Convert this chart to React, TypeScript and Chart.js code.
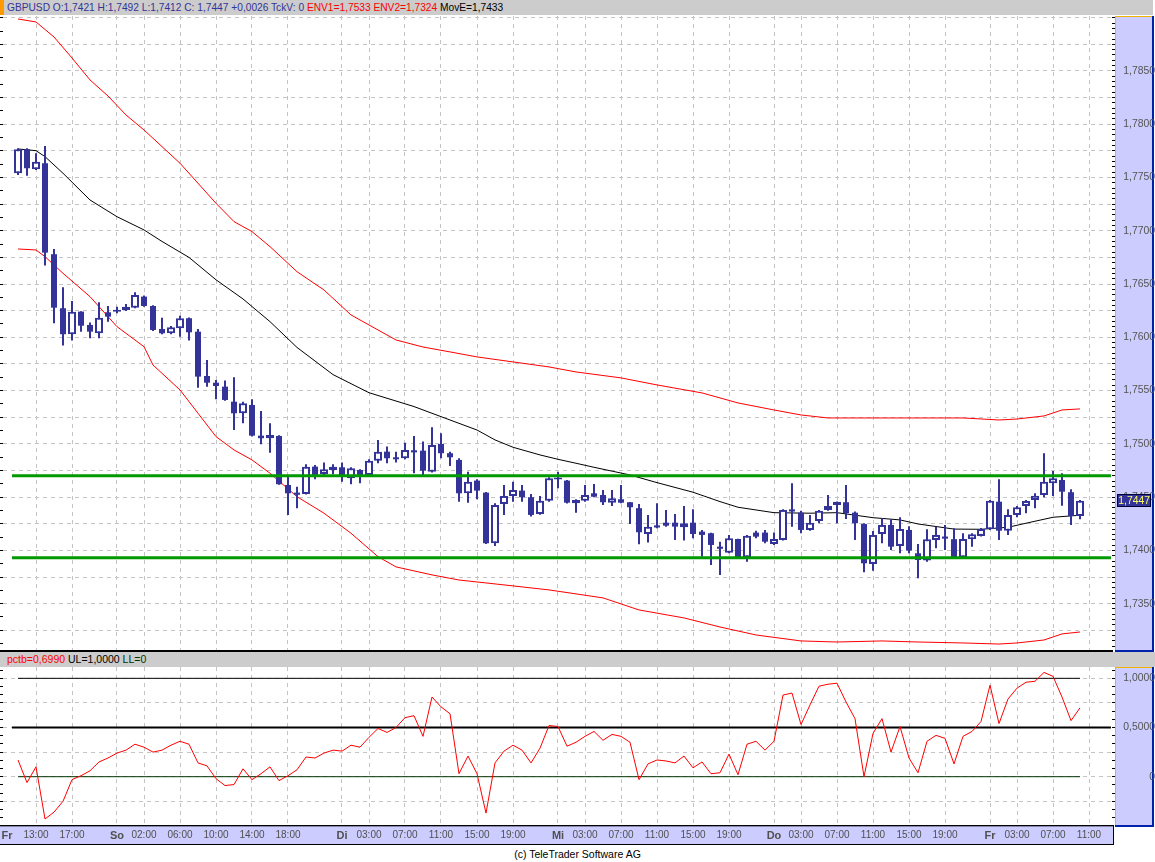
import React, { useEffect, useRef } from 'react';
import { Chart, registerables } from 'chart.js';

Chart.register(...registerables);

const FONT = '"Liberation Sans", Arial, sans-serif';
const BLUE = '#333399';

// ---------------- data (hourly GBPUSD candles, index 0 = Fr 11:00) ----------------
const candleOpen = [
  1.77540, 1.77765, 1.77577, 1.77634, 1.76780, 1.76273, 1.76029, 1.76241, 1.76116, 1.76038,
  1.76235, 1.76240, 1.76257, 1.76278, 1.76382, 1.76294, 1.76078, 1.76038, 1.76085, 1.76179,
  1.76053, 1.75637, 1.75574, 1.75537, 1.75396, 1.75287, 1.75365, 1.75077, 1.75053, 1.75074,
  1.74614, 1.74542, 1.74530, 1.74786, 1.74717, 1.74755, 1.74780, 1.74677, 1.74755, 1.74708,
  1.74842, 1.74927, 1.74874, 1.74865, 1.74940, 1.74936, 1.74739, 1.74999, 1.74912, 1.74849,
  1.74536, 1.74655, 1.74542, 1.74067, 1.74436, 1.74511, 1.74561, 1.74499, 1.74342, 1.74467,
  1.74665, 1.74655, 1.74442, 1.74467, 1.74536, 1.74520, 1.74448, 1.74480, 1.74452, 1.74396,
  1.74154, 1.74235, 1.74260, 1.74260, 1.74217, 1.74260, 1.74176, 1.74161, 1.74035, 1.73979,
  1.74107, 1.73936, 1.74167, 1.74167, 1.74060, 1.74098, 1.74385, 1.74354, 1.74192, 1.74276,
  1.74380, 1.74427, 1.74452, 1.74354, 1.74248, 1.73873, 1.74154, 1.74239, 1.74042, 1.74192,
  1.73973, 1.73904, 1.74098, 1.74130, 1.74105, 1.73936, 1.74105, 1.74136, 1.74198, 1.74457,
  1.74185, 1.74333, 1.74417, 1.74473, 1.74520, 1.74630, 1.74661, 1.74546, 1.74323,
];
const candleHigh = [
  1.77775, 1.77775, 1.77728, 1.77796, 1.76829, 1.76470, 1.76341, 1.76245, 1.76138, 1.76329,
  1.76294, 1.76288, 1.76313, 1.76423, 1.76392, 1.76300, 1.76184, 1.76107, 1.76203, 1.76185,
  1.76078, 1.75787, 1.75600, 1.75594, 1.75625, 1.75396, 1.75419, 1.75309, 1.75193, 1.75080,
  1.74692, 1.74598, 1.74809, 1.74802, 1.74824, 1.74809, 1.74824, 1.74780, 1.74762, 1.74855,
  1.75037, 1.74974, 1.74927, 1.75011, 1.75074, 1.75021, 1.75156, 1.75099, 1.74927, 1.74865,
  1.74739, 1.74668, 1.74548, 1.74442, 1.74614, 1.74645, 1.74614, 1.74530, 1.74511, 1.74686,
  1.74739, 1.74660, 1.74480, 1.74614, 1.74624, 1.74567, 1.74567, 1.74614, 1.74455, 1.74436,
  1.74333, 1.74442, 1.74380, 1.74342, 1.74417, 1.74386, 1.74192, 1.74165, 1.74082, 1.74145,
  1.74110, 1.74145, 1.74185, 1.74192, 1.74167, 1.74386, 1.74630, 1.74373, 1.74333, 1.74380,
  1.74520, 1.74460, 1.74614, 1.74364, 1.74255, 1.74182, 1.74302, 1.74292, 1.74311, 1.74227,
  1.74060, 1.74198, 1.74223, 1.74239, 1.74208, 1.74161, 1.74161, 1.74210, 1.74473, 1.74668,
  1.74386, 1.74417, 1.74473, 1.74536, 1.74912, 1.74746, 1.74724, 1.74574, 1.74473,
];
const candleLow = [
  1.77524, 1.77517, 1.77571, 1.76673, 1.76132, 1.75922, 1.75969, 1.76053, 1.75991, 1.75991,
  1.76147, 1.76226, 1.76247, 1.76273, 1.76288, 1.76060, 1.76029, 1.76029, 1.76006, 1.75969,
  1.75527, 1.75537, 1.75419, 1.75405, 1.75130, 1.75193, 1.75068, 1.74996, 1.74917, 1.74615,
  1.74333, 1.74396, 1.74525, 1.74668, 1.74708, 1.74715, 1.74645, 1.74621, 1.74630, 1.74705,
  1.74818, 1.74818, 1.74824, 1.74855, 1.74724, 1.74708, 1.74730, 1.74865, 1.74793, 1.74457,
  1.74448, 1.74480, 1.74060, 1.74042, 1.74333, 1.74457, 1.74457, 1.74317, 1.74335, 1.74457,
  1.74583, 1.74440, 1.74354, 1.74457, 1.74499, 1.74427, 1.74417, 1.74442, 1.74248, 1.74058,
  1.74073, 1.74208, 1.74223, 1.74098, 1.74092, 1.74114, 1.73941, 1.73863, 1.73770, 1.73973,
  1.73930, 1.73894, 1.74114, 1.74067, 1.74051, 1.74092, 1.74223, 1.74161, 1.74185, 1.74255,
  1.74373, 1.74255, 1.74295, 1.74098, 1.73795, 1.73810, 1.74067, 1.74004, 1.73973, 1.73973,
  1.73738, 1.73894, 1.74020, 1.74004, 1.73930, 1.73930, 1.74035, 1.74130, 1.74192, 1.74098,
  1.74145, 1.74311, 1.74349, 1.74396, 1.74499, 1.74511, 1.74420, 1.74239, 1.74292,
];
const candleClose = [
  1.77765, 1.77587, 1.77649, 1.76795, 1.76278, 1.76029, 1.76241, 1.76109, 1.76053, 1.76184,
  1.76194, 1.76258, 1.76288, 1.76398, 1.76294, 1.76069, 1.76038, 1.76094, 1.76179, 1.76047,
  1.75631, 1.75574, 1.75543, 1.75412, 1.75287, 1.75381, 1.75077, 1.75053, 1.75084, 1.74621,
  1.74536, 1.74522, 1.74786, 1.74699, 1.74762, 1.74786, 1.74699, 1.74771, 1.74708, 1.74842,
  1.74927, 1.74865, 1.74855, 1.74943, 1.74920, 1.74748, 1.74990, 1.74912, 1.74874, 1.74536,
  1.74645, 1.74561, 1.74067, 1.74427, 1.74511, 1.74567, 1.74499, 1.74333, 1.74467, 1.74677,
  1.74685, 1.74448, 1.74473, 1.74520, 1.74504, 1.74452, 1.74489, 1.74448, 1.74405, 1.74170,
  1.74223, 1.74215, 1.74232, 1.74223, 1.74255, 1.74154, 1.74145, 1.74051, 1.74015, 1.74114,
  1.73936, 1.74138, 1.74129, 1.74082, 1.74107, 1.74380, 1.74365, 1.74192, 1.74260, 1.74373,
  1.74417, 1.74457, 1.74349, 1.74255, 1.73879, 1.74145, 1.74239, 1.74035, 1.74201, 1.73998,
  1.73910, 1.74105, 1.74145, 1.74110, 1.73936, 1.74107, 1.74151, 1.74201, 1.74467, 1.74185,
  1.74333, 1.74405, 1.74464, 1.74514, 1.74645, 1.74677, 1.74551, 1.74323, 1.74467,
];

// moving average (black) read at sample bars
const maIdx = [0, 2, 3, 5, 8, 11, 14, 16, 19, 22, 25, 28, 31, 35, 39, 44, 48, 51, 53, 55, 58, 60, 62, 64, 68, 71, 75, 78, 80, 84, 88, 91, 95, 98, 100, 104, 107, 110, 112, 115, 118];
const maVal = [
  1.77768, 1.77752, 1.77696, 1.77540, 1.77289, 1.77132, 1.77008, 1.76900, 1.76750, 1.76540,
  1.76360, 1.76147, 1.75905, 1.75650, 1.75480, 1.75350, 1.75224, 1.75130, 1.75037, 1.74968,
  1.74896, 1.74855, 1.74818, 1.74780, 1.74708, 1.74636, 1.74546, 1.74458, 1.74405, 1.74354,
  1.74349, 1.74354, 1.74307, 1.74286, 1.74248, 1.74200, 1.74198, 1.74217, 1.74255, 1.74311,
  1.74330,
];
// envelope upper (red)
const envUIdx = [0, 2, 4, 6, 8, 10, 12, 14, 18, 22, 24, 26, 28, 31, 34, 37, 40, 42, 45, 48, 51, 55, 59, 62, 67, 71, 76, 80, 84, 87, 90, 96, 100, 105, 109, 111, 114, 116, 118];
const envUVal = [
  1.78988, 1.78960, 1.78819, 1.78622, 1.78416, 1.78265, 1.78087, 1.77946, 1.77634, 1.77258,
  1.77086, 1.76992, 1.76851, 1.76616, 1.76444, 1.76210, 1.76069, 1.75975, 1.75909, 1.75863,
  1.75816, 1.75769, 1.75722, 1.75675, 1.75619, 1.75553, 1.75478, 1.75384, 1.75318, 1.75271,
  1.75243, 1.75243, 1.75243, 1.75243, 1.75224, 1.75233, 1.75262, 1.75318, 1.75328,
];
// envelope lower (red)
const envLIdx = [0, 2, 3, 5, 8, 11, 14, 15, 18, 20, 22, 24, 26, 28, 31, 34, 37, 40, 42, 46, 49, 54, 59, 65, 69, 74, 78, 82, 87, 91, 96, 100, 105, 109, 111, 114, 116, 118];
const envLVal = [
  1.76829, 1.76820, 1.76757, 1.76601, 1.76382, 1.76100, 1.75912, 1.75740, 1.75506, 1.75287,
  1.75068, 1.74943, 1.74849, 1.74724, 1.74504, 1.74349, 1.74161, 1.73941, 1.73845, 1.73770,
  1.73722, 1.73676, 1.73629, 1.73554, 1.73441, 1.73366, 1.73281, 1.73206, 1.73150, 1.73140,
  1.73150, 1.73140, 1.73131, 1.73121, 1.73131, 1.73159, 1.73216, 1.73234,
];
// horizontal support / resistance levels (green)
const levelValues = [1.7470, 1.7393];

// %b indicator (lower panel)
const pctb = [
  0.17, -0.06, 0.10, -0.43, -0.36, -0.25, -0.03, 0.01, 0.06, 0.15,
  0.19, 0.24, 0.27, 0.33, 0.30, 0.25, 0.27, 0.32, 0.36, 0.33,
  0.14, 0.11, -0.02, -0.09, -0.08, 0.08, -0.03, 0.03, 0.10, -0.04,
  0.01, 0.07, 0.20, 0.19, 0.24, 0.27, 0.26, 0.32, 0.30, 0.40,
  0.49, 0.45, 0.50, 0.60, 0.62, 0.41, 0.81, 0.71, 0.64, 0.03,
  0.21, 0.03, -0.37, 0.14, 0.26, 0.32, 0.27, 0.14, 0.29, 0.52,
  0.51, 0.31, 0.35, 0.41, 0.46, 0.37, 0.43, 0.41, 0.35, -0.03,
  0.13, 0.17, 0.16, 0.14, 0.21, 0.09, 0.15, 0.03, 0.04, 0.23,
  0.02, 0.33, 0.36, 0.27, 0.36, 0.83, 0.85, 0.53, 0.73, 0.92,
  0.94, 0.95, 0.76, 0.59, 0.00, 0.44, 0.59, 0.25, 0.51, 0.19,
  0.04, 0.36, 0.42, 0.39, 0.13, 0.41, 0.46, 0.56, 0.93, 0.54,
  0.79, 0.90, 0.96, 0.97, 1.06, 1.02, 0.81, 0.57, 0.70,
];
const pctbUpper = 1.0;
const pctbMid = 0.5;
const pctbLower = 0.0;

// x-axis ticks (bar index) and their labels
const xTickIdx = [-1.22, 2, 6, 11, 14, 18, 22, 26, 30, 36, 39, 43, 47, 51, 55, 60, 63, 67, 71, 75, 79, 84, 87, 91, 95, 99, 103, 108, 111, 115, 119];
const xTickLabels = ['Fr', '13:00', '17:00', 'So', '02:00', '06:00', '10:00', '14:00', '18:00', 'Di', '03:00', '07:00', '11:00', '15:00', '19:00', 'Mi', '03:00', '07:00', '11:00', '15:00', '19:00', 'Do', '03:00', '07:00', '11:00', '15:00', '19:00', 'Fr', '03:00', '07:00', '11:00'];
const dayLabels = ['Fr', 'So', 'Di', 'Mi', 'Do'];

const headerBlue = 'GBPUSD O:1,7421 H:1,7492 L:1,7412 C: 1,7447 +0,0026 TckV: 0';
const headerRed = 'ENV1=1,7533 ENV2=1,7324';
const headerBlack = 'MovE=1,7433';

// ---------------- axis ranges ----------------
const X_MIN = -5 / 3;
const X_MAX = 1094 / 9;
const LEVEL_FROM = -0.67;
const LEVEL_TO = 121.44;
const Y_MIN = 1.73065;
const Y_MAX = 1.79016;
const P_MIN = -0.491;
const P_MAX = 1.115;

const GRID = '#c4c4c4';
const NONE = 'rgba(0,0,0,0)';

function stepTicks(min: number, max: number, step: number) {
  const out: any[] = [];
  const k0 = Math.ceil(min / step - 1e-9);
  const k1 = Math.floor(max / step + 1e-9);
  for (let k = k0; k <= k1; k++) out.push({ value: k * step });
  return out;
}

const fmt = (v: number) => v.toFixed(4).replace('.', ',');

const xScale = (showLabels: boolean) => ({
  type: 'linear',
  min: X_MIN,
  max: X_MAX,
  offset: false,
  afterBuildTicks: (s: any) => {
    s.ticks = xTickIdx.map((v) => ({ value: v }));
  },
  afterFit: (s: any) => {
    s.height = showLabels ? 20 : 0;
    s.paddingLeft = 0;
    s.paddingRight = 0;
  },
  grid: {
    offset: false,
    drawTicks: false,
    color: (c: any) => (c.index === 0 ? NONE : GRID),
    lineWidth: 1,
  },
  border: { display: false, dash: [4, 4] },
  ticks: {
    display: showLabels,
    autoSkip: false,
    maxRotation: 0,
    minRotation: 0,
    padding: 4,
    color: '#505050',
    callback: (_v: any, i: number) => xTickLabels[i],
    font: (c: any) => {
      const day = dayLabels.includes(xTickLabels[c.index]);
      return { family: FONT, size: day ? 11 : 10, weight: day ? 'bold' : 'normal' };
    },
  },
});

const leftTickScale = (min: number, max: number, step: number) => ({
  type: 'linear',
  position: 'left',
  min,
  max,
  afterBuildTicks: (s: any) => {
    s.ticks = stepTicks(min, max, step);
  },
  afterFit: (s: any) => {
    s.width = 3;
    s.paddingTop = 0;
    s.paddingBottom = 0;
  },
  grid: { drawOnChartArea: false, drawTicks: true, tickLength: 3, tickColor: '#000', tickWidth: 1 },
  border: { display: false },
  ticks: { display: false, autoSkip: false },
});

function axisBox(ctx: any, x0: number, x1: number, y0: number, y1: number) {
  ctx.fillStyle = '#ccccff';
  ctx.fillRect(x0, y0, x1 - x0, y1 - y0);
  ctx.fillStyle = '#f0b400';
  ctx.fillRect(x0, y0, x1 - x0, 1);
  ctx.fillRect(x0, y0, 1, y1 - y0);
  ctx.fillStyle = '#0022aa';
  ctx.fillRect(x1, y0, 2, y1 - y0 + 2);
  ctx.fillRect(x0, y1, x1 - x0 + 2, 2);
}

const mainBg = {
  id: 'mainBg',
  beforeDraw(chart: any) {
    const { ctx, chartArea: a, width, height } = chart;
    ctx.save();
    ctx.fillStyle = '#ffffff';
    ctx.fillRect(0, 0, width, height);
    axisBox(ctx, a.right + 3, width - 3, a.top, a.bottom);
    ctx.fillStyle = '#000';
    ctx.fillRect(0, a.bottom, a.right + 1, 2);
    ctx.restore();
  },
  afterDraw(chart: any) {
    const { ctx, chartArea: a, scales, width } = chart;
    const last = candleClose[candleClose.length - 1];
    const y = scales.y.getPixelForValue(last);
    ctx.save();
    const x0 = a.right + 5;
    const x1 = width - 4;
    ctx.fillStyle = '#333399';
    ctx.fillRect(x0, Math.round(y) - 7, x1 - x0, 13);
    ctx.strokeStyle = '#000033';
    ctx.lineWidth = 1;
    ctx.strokeRect(x0 + 0.5, Math.round(y) - 6.5, x1 - x0 - 1, 12);
    ctx.fillStyle = '#ffff66';
    ctx.font = `10.4px ${FONT}`;
    ctx.textAlign = 'right';
    ctx.textBaseline = 'middle';
    ctx.fillText(fmt(last), x1 - 1, Math.round(y) + 0.5);
    ctx.restore();
  },
};

const lowBg = {
  id: 'lowBg',
  beforeDraw(chart: any) {
    const { ctx, chartArea: a, width, height } = chart;
    ctx.save();
    ctx.fillStyle = '#ffffff';
    ctx.fillRect(0, 0, width, height);
    axisBox(ctx, a.right + 3, width - 3, a.top, a.bottom);
    // x-axis strip
    ctx.fillStyle = '#ccccff';
    ctx.fillRect(0, a.bottom + 2, a.right + 1, height - a.bottom - 3);
    ctx.fillStyle = '#000';
    ctx.fillRect(0, a.bottom, a.right + 2, 1);
    ctx.fillRect(0, height - 1, a.right + 2, 1);
    ctx.fillRect(a.right + 1, a.bottom, 1, height - a.bottom);
    ctx.fillStyle = '#8888aa';
    ctx.fillRect(0, a.bottom + 1, a.right + 1, 1);
    ctx.restore();
  },
};

function mainConfig(): any {
  const n = candleOpen.length;
  const idx = Array.from({ length: n }, (_, i) => i);
  const wicks = idx.map((i) => ({ x: i, y: [candleLow[i], candleHigh[i]] }));
  const ups = idx.filter((i) => candleClose[i] >= candleOpen[i]).map((i) => ({ x: i, y: [candleOpen[i], candleClose[i]] }));
  const downs = idx.filter((i) => candleClose[i] < candleOpen[i]).map((i) => ({ x: i, y: [candleOpen[i], candleClose[i]] }));
  const line = (xs: number[], ys: number[]) => xs.map((x, i) => ({ x, y: ys[i] }));
  const lineStyle = { type: 'line', pointRadius: 0, tension: 0, fill: false };
  return {
    type: 'bar',
    data: {
      datasets: [
        { ...lineStyle, data: line(envUIdx, envUVal), borderColor: '#ff0000', borderWidth: 1, order: 5 },
        { ...lineStyle, data: line(envLIdx, envLVal), borderColor: '#ff0000', borderWidth: 1, order: 5 },
        { ...lineStyle, data: line(maIdx, maVal), borderColor: '#000000', borderWidth: 1, order: 4 },
        { type: 'bar', data: wicks, barThickness: 2, backgroundColor: BLUE, borderWidth: 0, grouped: false, inflateAmount: 0, order: 3 },
        { type: 'bar', data: downs, barThickness: 6, backgroundColor: BLUE, borderWidth: 0, grouped: false, inflateAmount: 0, order: 2 },
        { type: 'bar', data: ups, barThickness: 8, backgroundColor: '#ffffff', borderColor: BLUE, borderWidth: 2, borderSkipped: false, grouped: false, inflateAmount: 0, order: 1 },
        ...levelValues.map((v) => ({
          ...lineStyle,
          data: [{ x: LEVEL_FROM, y: v }, { x: LEVEL_TO, y: v }],
          borderColor: '#009900',
          borderWidth: 3,
          order: 0,
        })),
      ],
    },
    options: {
      animation: false,
      responsive: false,
      events: [],
      layout: { padding: { top: 0, left: 0, right: 0, bottom: 3 } },
      plugins: { legend: { display: false }, tooltip: { enabled: false } },
      scales: {
        x: xScale(false),
        yl: leftTickScale(Y_MIN, Y_MAX, 0.00125),
        y: {
          type: 'linear',
          position: 'right',
          min: Y_MIN,
          max: Y_MAX,
          beginAtZero: false,
          afterBuildTicks: (s: any) => {
            s.ticks = stepTicks(Y_MIN, Y_MAX, 0.0005);
          },
          afterFit: (s: any) => {
            s.width = 43;
            s.paddingTop = 0;
            s.paddingBottom = 0;
          },
          grid: {
            color: (c: any) => {
              const k = Math.round(c.tick.value / 0.0005);
              return k % 5 === 0 ? GRID : NONE;
            },
            drawTicks: true,
            tickLength: 3,
            tickColor: '#000',
            tickWidth: 1,
          },
          border: { display: false, dash: [4, 4] },
          ticks: {
            autoSkip: false,
            crossAlign: 'far',
            padding: 1,
            color: '#555555',
            font: { family: FONT, size: 10.4 },
            callback: (v: number) => {
              const k = Math.round(v / 0.0005);
              if (k % 10 !== 0 || v > 1.787) return '';
              return fmt(v);
            },
          },
        },
      },
    },
    plugins: [mainBg],
  };
}

function lowConfig(): any {
  const n = pctb.length;
  const lineStyle = { pointRadius: 0, tension: 0, fill: false };
  return {
    type: 'line',
    data: {
      datasets: [
        { ...lineStyle, data: [{ x: 0, y: pctbUpper }, { x: n - 1, y: pctbUpper }], borderColor: '#000000', borderWidth: 1, order: 3 },
        { ...lineStyle, data: [{ x: 0, y: pctbLower }, { x: n - 1, y: pctbLower }], borderColor: '#003300', borderWidth: 1, order: 3 },
        { ...lineStyle, data: [{ x: LEVEL_FROM, y: pctbMid }, { x: LEVEL_TO, y: pctbMid }], borderColor: '#000000', borderWidth: 2, order: 2 },
        { ...lineStyle, data: pctb.map((v, i) => ({ x: i, y: v })), borderColor: '#ff0000', borderWidth: 1, order: 1 },
      ],
    },
    options: {
      animation: false,
      responsive: false,
      events: [],
      layout: { padding: 0 },
      plugins: { legend: { display: false }, tooltip: { enabled: false } },
      scales: {
        x: xScale(true),
        yl: leftTickScale(P_MIN, P_MAX, 1 / 12),
        y: {
          type: 'linear',
          position: 'right',
          min: P_MIN,
          max: P_MAX,
          afterBuildTicks: (s: any) => {
            s.ticks = stepTicks(P_MIN, P_MAX, 1 / 12);
          },
          afterFit: (s: any) => {
            s.width = 43;
            s.paddingTop = 0;
            s.paddingBottom = 0;
          },
          grid: {
            color: (c: any) => {
              const k = Math.round(c.tick.value * 12);
              return k % 3 === 0 ? GRID : NONE;
            },
            drawTicks: true,
            tickLength: 3,
            tickColor: '#000',
            tickWidth: 1,
          },
          border: { display: false, dash: [4, 4] },
          ticks: {
            autoSkip: false,
            crossAlign: 'far',
            padding: 1,
            color: '#555555',
            font: { family: FONT, size: 10.4 },
            callback: (v: number) => {
              const k = Math.round(v * 12);
              if (k % 6 !== 0 || k < 0) return '';
              return k === 0 ? '0' : fmt(k / 12);
            },
          },
        },
      },
    },
    plugins: [lowBg],
  };
}

export default function App() {
  const mainRef = useRef<HTMLCanvasElement>(null);
  const lowRef = useRef<HTMLCanvasElement>(null);

  useEffect(() => {
    document.body.style.margin = '0';
    const c1 = new Chart(mainRef.current as HTMLCanvasElement, mainConfig());
    const c2 = new Chart(lowRef.current as HTMLCanvasElement, lowConfig());
    return () => {
      c1.destroy();
      c2.destroy();
    };
  }, []);

  return (
    <div style={{ position: 'absolute', left: 0, top: 0, width: 1155, height: 862, background: '#ffffff', overflow: 'hidden', fontFamily: FONT }}>
      <div style={{ position: 'absolute', left: 0, top: 0, width: 1153, height: 15, background: '#cccccc' }}>
        <div style={{ position: 'absolute', left: 0, top: 0, width: 4, height: 15, background: '#ff9900' }} />
        <div style={{ position: 'absolute', left: 7, top: 0, height: 15, lineHeight: '15px', fontSize: 10.2, whiteSpace: 'nowrap' }}>
          <span style={{ color: '#333399' }}>{headerBlue} </span>
          <span style={{ color: '#ff0000' }}>{headerRed} </span>
          <span style={{ color: '#000000' }}>{headerBlack}</span>
        </div>
      </div>
      <canvas ref={mainRef} width={1155} height={637} style={{ position: 'absolute', left: 0, top: 16, width: 1155, height: 637 }} />
      <div style={{ position: 'absolute', left: 0, top: 652, width: 1155, height: 15, background: '#cccccc' }}>
        <div style={{ position: 'absolute', left: 7, top: 0, height: 15, lineHeight: '15px', fontSize: 10.5, whiteSpace: 'nowrap' }}>
          <span style={{ color: '#ff0000' }}>pctb=0,6990 </span>
          <span style={{ color: '#000000' }}>UL=1,0000 </span>
          <span style={{ color: '#003300' }}>LL=0</span>
        </div>
      </div>
      <canvas ref={lowRef} width={1155} height={178} style={{ position: 'absolute', left: 0, top: 667, width: 1155, height: 178 }} />
      <div style={{ position: 'absolute', left: 0, top: 847, width: 1155, height: 15, lineHeight: '15px', fontSize: 10.5, textAlign: 'center', color: '#000' }}>
        (c) TeleTrader Software AG
      </div>
    </div>
  );
}
